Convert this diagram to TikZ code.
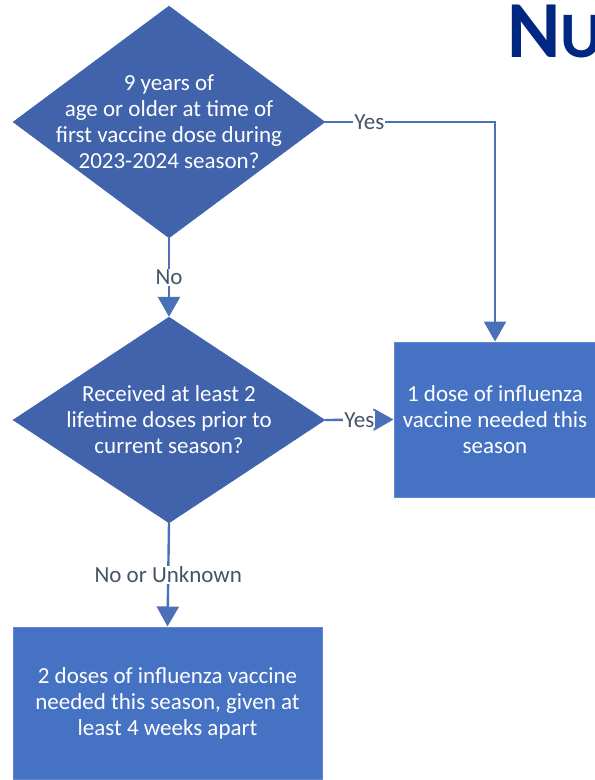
\documentclass[tikz,border=0pt]{standalone}
\usepackage{fontspec}
\setmainfont{Carlito}
\usetikzlibrary{arrows.meta, shapes.geometric}

\definecolor{qfill}{RGB}{64,99,172}
\definecolor{bfill}{RGB}{70,114,196}
\definecolor{flowline}{RGB}{74,112,184}
\definecolor{lbltext}{RGB}{68,84,106}
\definecolor{navy}{RGB}{0,40,130}

\tikzset{
	question/.style={diamond, draw=qfill, fill=qfill, inner sep=0pt},
	answer/.style={rectangle, draw=bfill!85!white, line width=1pt, fill=bfill, inner sep=0pt},
	qtext/.style={text=white, align=center, font=\fontsize{23}{26}\selectfont},
	flow/.style={flowline, line width=2.4pt, -{Triangle[length=20pt,width=22pt]}},
	lbl/.style={fill=white, text=lbltext, inner sep=1pt, font=\fontsize{23}{26}\selectfont}
}

\begin{document}
\begin{tikzpicture}[x=1pt, y=-1pt]
			\useasboundingbox (0,0) rectangle (595,780);
			\clip (0,0) rectangle (595,780);
			
			% Heading, cut off at the right edge
			\node[anchor=base west, inner sep=0pt, text=navy, font=\bfseries] (title) at (507,57)
			{\fontsize{81}{81}\selectfont N\fontsize{65}{65}\selectfont U};
			
			% Decisions
			\node[question, minimum width=312pt, minimum height=232pt] (q1) at (169,122) {};
			\node[qtext] (q1t) at (q1) {9 years of\\ age or older at time of\\ first vaccine dose during\\ 2023-2024 season?};
			
			\node[question, minimum width=312pt, minimum height=206pt] (q2) at (169,420) {};
			\node[qtext] (q2t) at (q2) {Received at least 2\\ lifetime doses prior to\\ current season?};
			
			% Outcomes
			\node[answer, minimum width=202pt, minimum height=155pt] (one) at (495,419.5) {};
			\node[qtext] (onet) at (one) {1 dose of influenza\\ vaccine needed this\\ season};
			
			\node[answer, minimum width=309pt, minimum height=152pt] (two) at (167.5,703) {};
			\node[qtext] (twot) at (two) {2 doses of influenza vaccine\\ needed this season, given at\\ least 4 weeks apart};
			
			% Connectors
			\draw[flow] (q1.south) -- node[lbl] {No} (q2.north);
			\draw[flow] (q1.east) -- node[lbl, pos=0.26] {Yes} (q1.east -| one) -- (one.north);
			\draw[flow] (q2.east) -- node[lbl] {Yes} (one.west);
			\draw[flow] (q2.south) -- node[lbl] {No or Unknown} (two.north);
\end{tikzpicture}
\end{document}
